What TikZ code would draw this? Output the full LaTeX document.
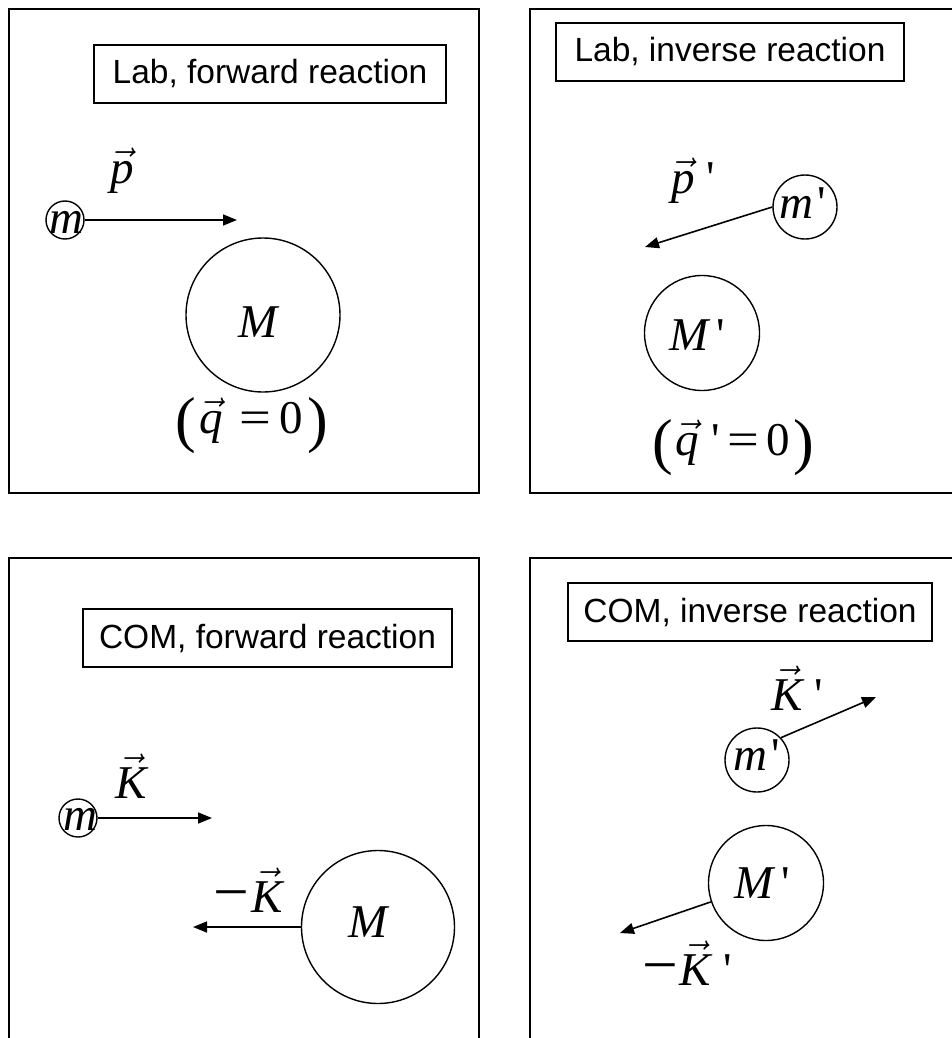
\RequirePackage{fix-cm}
\documentclass[tikz,border=0pt]{standalone}
\usepackage{graphicx}
\usepackage{fontspec}
\newfontfamily\arl{Liberation Sans}
\newfontfamily\tms{Liberation Serif}[Ligatures=TeXOff]
\usetikzlibrary{arrows.meta}
\newcommand\vv[1]{\ensuremath{\vec{\hbox{\itshape #1}}}}
\newcommand\prm{{\upshape\char"27}}
\newcommand\bigpar[1]{\raisebox{-7pt}{\fontsize{62}{64}\selectfont #1}}
\newcommand\eqs{\scalebox{1.2}[1]{=}}
\newcommand\mns{\scalebox{1.35}[1.3]{−}\kern2pt}
\tikzset{
  frame/.style={line width=1.7pt, draw=black},
  lbl/.style={draw, line width=1.4pt, font=\arl\fontsize{33.5}{36}\selectfont, inner sep=0pt, minimum height=58pt},
  ball/.style={circle, draw, line width=1.4pt, inner sep=0pt},
  mth/.style={font=\tms\fontsize{47}{50}\selectfont, inner sep=0pt, anchor=base},
  vel/.style={line width=1.6pt, -{Triangle[length=14pt,width=11pt]}},
}
\begin{document}
\begin{tikzpicture}[x=1pt,y=-1pt]
\useasboundingbox (0,0) rectangle (952,1038);
\clip (0,0) rectangle (952,1038);
% frames
\draw[frame] (9,9) rectangle (479,493);
\draw[frame] (960,9) -- (530,9) -- (530,493) -- (960,493);
\draw[frame] (9,1045) -- (9,558) -- (479,558) -- (479,1045);
\draw[frame] (530,1045) -- (530,558) -- (960,558);
% titles
\node[lbl, minimum width=352pt] (t1) at (270,74) {Lab, forward reaction};
\node[lbl, minimum width=348pt] (t2) at (730,52) {Lab, inverse reaction};
\node[lbl, minimum width=369pt] (t3) at (267.5,638) {COM, forward reaction};
\node[lbl, minimum width=364pt] (t4) at (750,612) {COM, inverse reaction};
% panel 1
\node[ball, minimum size=38pt] (m1) at (65,220) {};
\node[mth] (m1t) at (66,233) {\itshape m};
\coordinate (p1e) at (237,220);
\draw[vel] (m1) -- (p1e);
\node[mth] (p1t) at (122,183) {\vv{p}};
\node[ball, minimum size=154pt] (M1) at (263,315) {};
\node[mth] (M1t) at (258,337) {\itshape M};
\node[mth] (q1) at (252,433) {\bigpar{(}\kern3pt\vv{q}\kern16pt\eqs\kern9pt0\kern4pt\bigpar{)}};
% panel 2
\node[ball, minimum size=64pt] (m2) at (805,207) {};
\node[mth] (m2t) at (803,218) {\itshape m\kern4pt\prm};
\coordinate (p2e) at (645,247);
\draw[vel] (m2.west) -- (p2e);
\node[mth] (p2t) at (693,193) {\vv{p}\kern12pt\prm};
\node[ball, minimum size=115pt] (M2) at (702,333) {};
\node[mth] (M2t) at (697,350) {\itshape M\kern8pt\prm};
\node[mth] (q2) at (733,455) {\bigpar{(}\kern3pt\vv{q}\kern12pt\prm\kern8pt\eqs\kern7pt0\kern3pt\bigpar{)}};
% panel 3
\node[ball, minimum size=38pt] (m3) at (78,818) {};
\node[mth] (m3t) at (80,830) {\itshape m};
\coordinate (k3e) at (212,818);
\draw[vel] (m3) -- (k3e);
\node[mth] (K3t) at (131,798) {\vv{K}};
\node[ball, minimum size=153pt] (M3) at (378,927) {};
\node[mth] (M3t) at (368,937) {\itshape M};
\coordinate (k3f) at (193,927);
\draw[vel] (M3) -- (k3f);
\node[mth] (mK3) at (248,912) {\mns\vv{K}};
% panel 4
\node[ball, minimum size=64pt] (m4) at (757,760) {};
\node[mth] (m4t) at (757,770) {\itshape m\kern4pt\prm};
\coordinate (k4e) at (876,697);
\draw[vel] (m4.43) -- (k4e);
\node[mth] (K4t) at (797,710) {\vv{K}\kern12pt\prm};
\node[ball, minimum size=115pt] (M4) at (766,883) {};
\node[mth] (M4t) at (762,898) {\itshape M\kern8pt\prm};
\coordinate (k4f) at (620,933);
\draw[vel] (M4) -- (k4f);
\node[mth] (mK4) at (687,985) {\mns\vv{K}\kern12pt\prm};
\end{tikzpicture}
\end{document}
